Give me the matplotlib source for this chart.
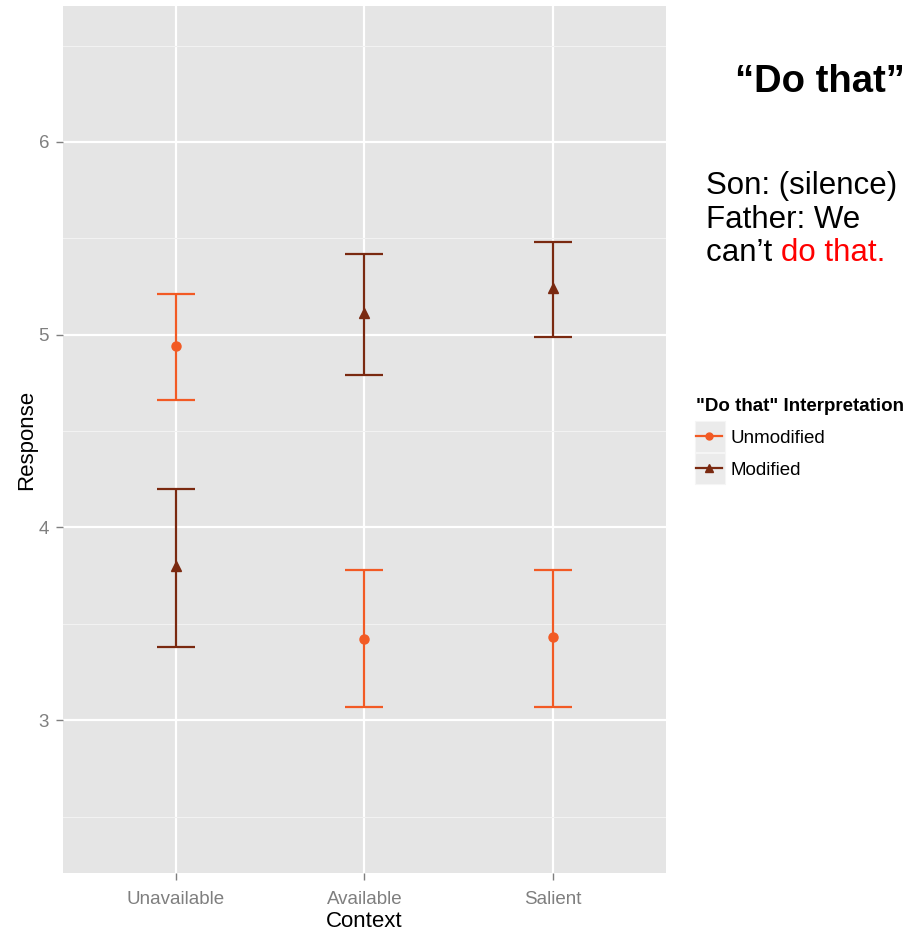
import matplotlib.pyplot as plt
from matplotlib.lines import Line2D
from matplotlib.patches import Rectangle

# Donnees
contexts = ["Unavailable", "Available", "Salient"]
unmod_mean = [4.94, 3.42, 3.43]
unmod_low = [4.66, 3.07, 3.07]
unmod_high = [5.21, 3.78, 3.78]
mod_mean = [3.80, 5.11, 5.24]
mod_low = [3.38, 4.79, 4.99]
mod_high = [4.20, 5.42, 5.48]

c_unmod = "#F25A24"
c_mod = "#7A2910"
grey_txt = "#7F7F7F"

plt.rcParams['font.family'] = ['Liberation Sans', 'DejaVu Sans']

fig = plt.figure(figsize=(9.12, 9.32), dpi=100)
ax = fig.add_axes([63 / 912, 59 / 932, 603 / 912, 867 / 932])
ax.set_facecolor("#E5E5E5")

x = range(1, len(contexts) + 1)
for mean, lo, hi, col, mk, ms in [
    (unmod_mean, unmod_low, unmod_high, c_unmod, 'o', 6.5),
    (mod_mean, mod_low, mod_high, c_mod, '^', 7),
]:
    yerr = [[m - l for m, l in zip(mean, lo)], [h - m for m, h in zip(mean, hi)]]
    ax.errorbar(x, mean, yerr=yerr, fmt=mk, color=col, ecolor=col, markersize=ms,
                elinewidth=1.6, capsize=14, capthick=1.6, zorder=3)

ax.set_xlim(0.4, 3.6)
ax.set_ylim(2.207, 6.705)
ax.set_xticks(list(x))
ax.set_xticklabels(contexts)
ax.set_yticks([3, 4, 5, 6])
ax.set_yticks([2.5, 3.5, 4.5, 5.5, 6.5], minor=True)

ax.grid(True, which='major', color='white', linewidth=1.6)
ax.grid(True, which='minor', axis='y', color='#F2F2F2', linewidth=0.8)
ax.set_axisbelow(True)
for s in ax.spines.values():
    s.set_visible(False)
ax.tick_params(axis='both', which='major', colors=grey_txt, labelsize=13.5,
               length=5, width=1, pad=5)
ax.tick_params(axis='x', which='major', pad=8)
ax.tick_params(axis='both', which='minor', length=0)

ax.set_xlabel("Context", fontsize=16, labelpad=2)
ax.set_ylabel("Response", fontsize=16, labelpad=1)

# Legende
handles = [
    Line2D([], [], color=c_unmod, marker='o', markersize=5, linewidth=1.6),
    Line2D([], [], color=c_mod, marker='^', markersize=5.5, linewidth=1.6),
]
leg = fig.legend(handles, ["Unmodified", "Modified"], title='"Do that" Interpretation',
                 loc='upper left', bbox_to_anchor=(683 / 912, 1 - 385 / 932),
                 frameon=False, fontsize=13.5, handlelength=1.4, handletextpad=0.45,
                 labelspacing=0.78, borderpad=0.2, alignment='left')
leg.get_title().set_fontweight('bold')
leg.get_title().set_fontsize(13.5)
for yy in (420, 452):
    fig.patches.append(Rectangle((695 / 912, 1 - (yy + 32) / 932), 30 / 912, 31 / 932,
                                 transform=fig.transFigure, facecolor='#EBEBEB',
                                 edgecolor='#F5F5F5', linewidth=0.8, zorder=0))

# Texte a droite
fig.text(905 / 912, 1 - 82 / 932, "\u201cDo that\u201d", ha='right', va='center',
         fontsize=27.5, fontweight='bold')
fig.text(706 / 912, 1 - 186 / 932, "Son: (silence)", ha='left', va='center', fontsize=22.5)
fig.text(706 / 912, 1 - 220 / 932, "Father: We", ha='left', va='center', fontsize=22.5)
t3 = fig.text(706 / 912, 1 - 253 / 932, "can\u2019t ", ha='left', va='center', fontsize=22.5)
ax.annotate("do that.", xy=(1, 0), xycoords=t3, ha='left', va='bottom',
            fontsize=22.5, color='red', annotation_clip=False)

plt.savefig("out.png", dpi=100)
